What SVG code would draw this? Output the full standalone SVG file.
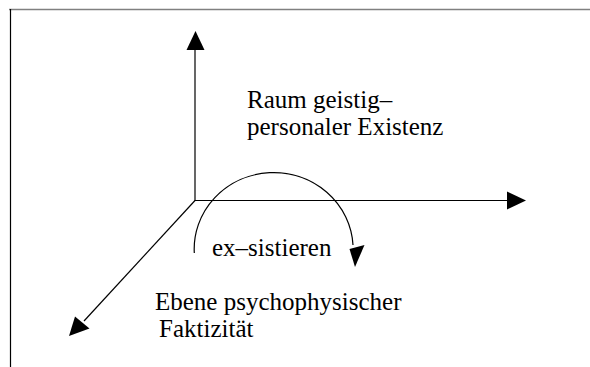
<svg xmlns="http://www.w3.org/2000/svg" width="590" height="367" viewBox="0 0 590 367">
<style>
.ax{stroke:#000;stroke-width:1.2;fill:none}
.ah{fill:#000;stroke:none}
.t{font-family:'Liberation Serif','Times New Roman',serif;font-size:25px;fill:#000}
</style>
<rect width="590" height="367" fill="#fff"/>
<g id="frame">
<line x1="9" y1="9.5" x2="590" y2="9.5" stroke="#808080" stroke-width="1.5"/>
<line x1="10.5" y1="9" x2="10.5" y2="367" stroke="#000" stroke-width="1.2"/>
</g>
<g id="connectors">
<line class="ax" x1="195" y1="200.5" x2="195" y2="50"/>
<polygon class="ah" points="195.5,31 186.5,50 204.5,50"/>
<line class="ax" x1="194.5" y1="200.5" x2="508" y2="200.5"/>
<polygon class="ah" points="526,200.5 507,191.5 507,209.5"/>
<line class="ax" x1="195" y1="200.5" x2="84" y2="321"/>
<polygon class="ah" points="69,336 75,316.5 89.5,328.5"/>
<path class="ax" d="M194.3,253 A79 76 0 0 1 353,245"/>
<polygon class="ah" points="349.5,249 364.5,245 355,267"/>
</g>
<g id="raum"><text class="t" x="247" y="108">Raum geistig–</text><text class="t" x="247" y="135">personaler Existenz</text></g>
<g id="exsistieren"><text class="t" x="212" y="256">ex–sistieren</text></g>
<g id="ebene"><text class="t" x="155" y="310">Ebene psychophysischer</text><text class="t" x="159" y="337">Faktizität</text></g>
</svg>
